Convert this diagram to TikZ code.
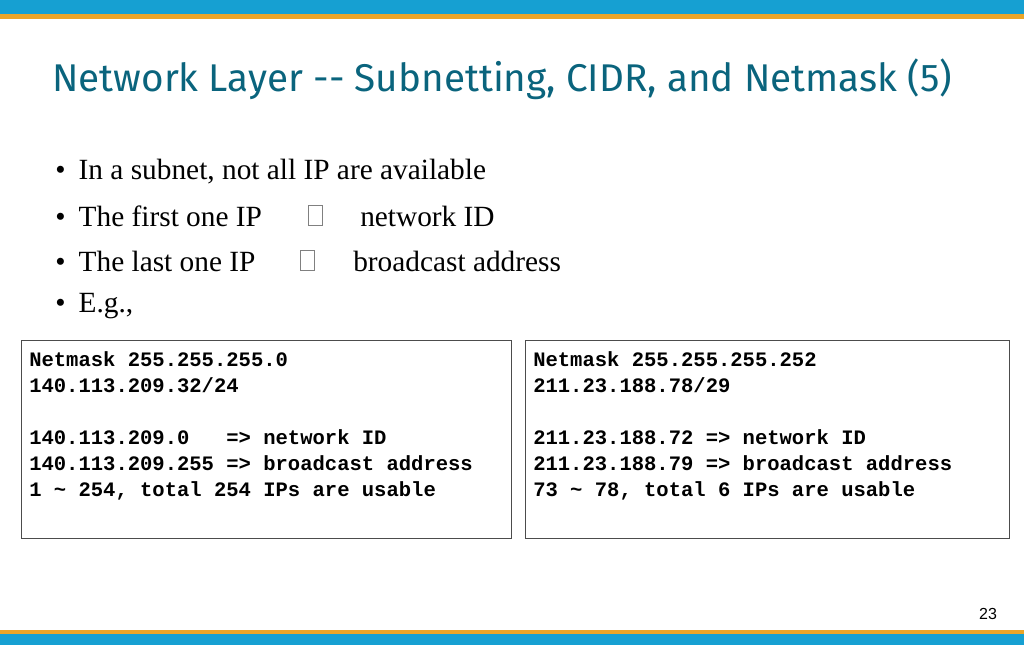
\documentclass[tikz,border=0pt]{standalone}
\usepackage{fontspec}
\setmainfont{Liberation Serif}
\newfontfamily\titlefont{Fira Sans}
\newfontfamily\monofont{Liberation Mono}
\newfontfamily\numfont{Liberation Sans}
\definecolor{barblue}{RGB}{22,160,210}
\definecolor{barorange}{RGB}{235,165,40}
\definecolor{titleteal}{RGB}{10,100,125}
\tikzset{
  codebox/.style={draw=black!70, line width=0.6pt},
  code/.style={anchor=north west, inner sep=0pt, align=left, font=\monofont\bfseries\fontsize{15.4}{19.5}\selectfont},
  bullet/.style={anchor=west, inner sep=0pt, font=\fontsize{22}{26}\selectfont},
  tofu/.style={draw=black!50, line width=0.4pt}
}
\begin{document}
\begin{tikzpicture}[x=0.75pt,y=-0.75pt]
\useasboundingbox (0,0) rectangle (1024,645);
\fill[barblue] (0,0) rectangle (1024,14);
\fill[barorange] (0,14) rectangle (1024,19);
\fill[barorange] (0,630) rectangle (1024,634);
\fill[barblue] (0,634) rectangle (1024,645);
\node[anchor=west, inner sep=0pt, text=titleteal, font=\titlefont\fontsize{29}{34}\selectfont] (title) at (52,79) {Network Layer -- Subnetting, CIDR, and Netmask (5)};
\node[bullet] (b1) at (55,172) {\textbullet\hspace{0.45em}In a subnet, not all IP are available};
\node[bullet] (b2) at (55,216) {\textbullet\hspace{0.45em}The first one IP};
\node[bullet] (b2b) at (360,216) {network ID};
\node[bullet] (b3) at (55,261) {\textbullet\hspace{0.45em}The last one IP};
\node[bullet] (b3b) at (353,261) {broadcast address};
\node[bullet] (b4) at (55,306) {\textbullet\hspace{0.45em}E.g.,};
\draw[tofu] (308,205) rectangle (322,225);
\draw[tofu] (300,250) rectangle (314,270);
\draw[codebox] (21,340) rectangle (511,538);
\draw[codebox] (525,340) rectangle (1009,538);
\node[code] (c1) at (29,351) {Netmask 255.255.255.0\\140.113.209.32/24\\[19.5pt]140.113.209.0~~~=> network ID\\140.113.209.255 => broadcast address\\1 \textasciitilde{} 254, total 254 IPs are usable};
\node[code] (c2) at (533,351) {Netmask 255.255.255.252\\211.23.188.78/29\\[19.5pt]211.23.188.72 => network ID\\211.23.188.79 => broadcast address\\73 \textasciitilde{} 78, total 6 IPs are usable};
\node[anchor=center, inner sep=0pt, font=\numfont\fontsize{12}{14}\selectfont] (pg) at (988,614) {23};
\end{tikzpicture}
\end{document}
